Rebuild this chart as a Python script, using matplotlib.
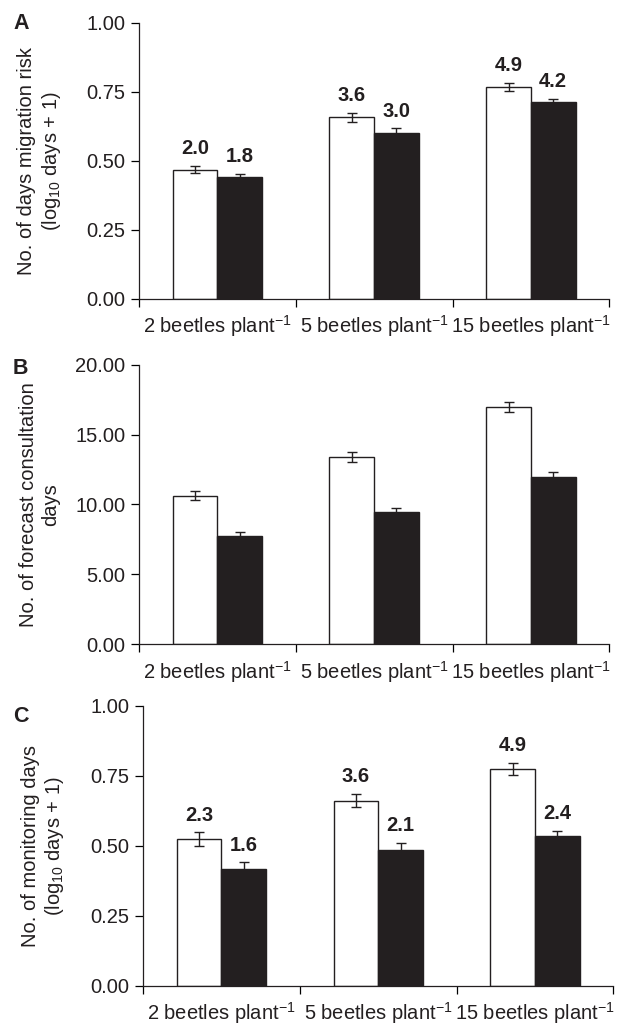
import matplotlib
matplotlib.use("Agg")
import matplotlib.pyplot as plt
from matplotlib.ticker import FormatStrFormatter
import numpy as np

plt.rcParams['font.family'] = ['Liberation Sans', 'DejaVu Sans']
plt.rcParams['mathtext.fontset'] = 'custom'
plt.rcParams['mathtext.rm'] = 'Liberation Sans'
plt.rcParams['mathtext.it'] = 'Liberation Sans:italic'
plt.rcParams['mathtext.bf'] = 'Liberation Sans:bold'

# --------- Data ---------
categories = ["2 beetles plant$^{-1}$", "5 beetles plant$^{-1}$", "15 beetles plant$^{-1}$"]

# A: days of migration risk (log10 days + 1)
migr_white = [0.469, 0.659, 0.769]
migr_white_err = [0.013, 0.016, 0.014]
migr_black = [0.441, 0.602, 0.712]
migr_black_err = [0.013, 0.016, 0.013]
migr_white_lbl = ["2.0", "3.6", "4.9"]
migr_black_lbl = ["1.8", "3.0", "4.2"]

# B: forecast consultation days
fc_white = [10.64, 13.39, 16.97]
fc_white_err = [0.32, 0.35, 0.36]
fc_black = [7.73, 9.43, 11.98]
fc_black_err = [0.31, 0.33, 0.33]

# C: monitoring days (log10 days + 1)
mon_white = [0.523, 0.662, 0.774]
mon_white_err = [0.025, 0.023, 0.022]
mon_black = [0.417, 0.487, 0.534]
mon_black_err = [0.024, 0.024, 0.019]
mon_white_lbl = ["2.3", "3.6", "4.9"]
mon_black_lbl = ["1.6", "2.1", "2.4"]

BLACK = "#231f20"
FS = 14.5


def draw_panel(ax, white, werr, black, berr, ymax, yticks, ylabel,
               wlbl=None, blbl=None, label_x=-0.165):
    x = np.arange(len(categories)) + 0.5
    w = 0.285
    ax.bar(x - w / 2, white, w, color="white", edgecolor=BLACK, linewidth=1.0, zorder=2)
    ax.bar(x + w / 2, black, w, color=BLACK, edgecolor=BLACK, linewidth=1.0, zorder=2)
    ax.errorbar(x - w / 2, white, yerr=werr, fmt="none", ecolor=BLACK,
                elinewidth=1, capsize=3.5, capthick=1, zorder=3)
    ax.errorbar(x + w / 2, black, yerr=berr, fmt="none", ecolor=BLACK,
                elinewidth=1, capsize=3.5, capthick=1, zorder=3)
    if wlbl:
        for xi, v, e, t in zip(x - w / 2, white, werr, wlbl):
            ax.annotate(t, (xi, v + e), xytext=(0, 5.5), textcoords="offset points",
                        ha="center", va="bottom", fontsize=FS, fontweight="bold",
                        color=BLACK)
        for xi, v, e, t in zip(x + w / 2, black, berr, blbl):
            ax.annotate(t, (xi, v + e), xytext=(0, 5.5), textcoords="offset points",
                        ha="center", va="bottom", fontsize=FS, fontweight="bold",
                        color=BLACK)

    ax.set_xlim(0, 3)
    ax.set_ylim(0, ymax)
    ax.set_yticks(yticks)
    ax.yaxis.set_major_formatter(FormatStrFormatter("%.2f"))
    ax.set_xticks([0, 1, 2, 3])
    ax.set_xticklabels([])
    ax.set_xticks(x, minor=True)
    ax.set_xticklabels(categories, minor=True, fontsize=FS, color=BLACK)
    ax.tick_params(axis="x", which="major", length=6, width=0.9, direction="out")
    ax.tick_params(axis="x", which="minor", length=0, pad=10.5)
    ax.tick_params(axis="y", length=6, width=0.9, direction="out", pad=4,
                   labelsize=FS, labelcolor=BLACK)
    for s in ["top", "right"]:
        ax.spines[s].set_visible(False)
    for s in ["left", "bottom"]:
        ax.spines[s].set_linewidth(0.9)
        ax.spines[s].set_color(BLACK)
    ax.set_ylabel(ylabel, fontsize=FS, linespacing=1.2, color=BLACK)
    ax.yaxis.set_label_coords(label_x, 0.5)


fig = plt.figure(figsize=(6.22, 10.26), dpi=100)
axA = fig.add_axes([0.2235, 0.7086, 0.756, 0.269])
axB = fig.add_axes([0.2235, 0.3723, 0.756, 0.272])
axC = fig.add_axes([0.230, 0.0390, 0.756, 0.273])

draw_panel(axA, migr_white, migr_white_err, migr_black, migr_black_err,
           1.0, [0, 0.25, 0.5, 0.75, 1.0],
           "No. of days migration risk\n(log$_{10}$ days + 1)",
           migr_white_lbl, migr_black_lbl, label_x=-0.162)
draw_panel(axB, fc_white, fc_white_err, fc_black, fc_black_err,
           20.0, [0, 5, 10, 15, 20],
           "No. of forecast consultation\ndays", label_x=-0.168)
draw_panel(axC, mon_white, mon_white_err, mon_black, mon_black_err,
           1.0, [0, 0.25, 0.5, 0.75, 1.0],
           "No. of monitoring days\n(log$_{10}$ days + 1)",
           mon_white_lbl, mon_black_lbl, label_x=-0.164)

for lbl, ytop in [("A", 13), ("B", 358), ("C", 706)]:
    fig.text(13 / 622, 1 - ytop / 1026, lbl, fontsize=15.5, fontweight="bold",
             ha="left", va="top", color=BLACK)

fig.savefig("out.png", dpi=100)
